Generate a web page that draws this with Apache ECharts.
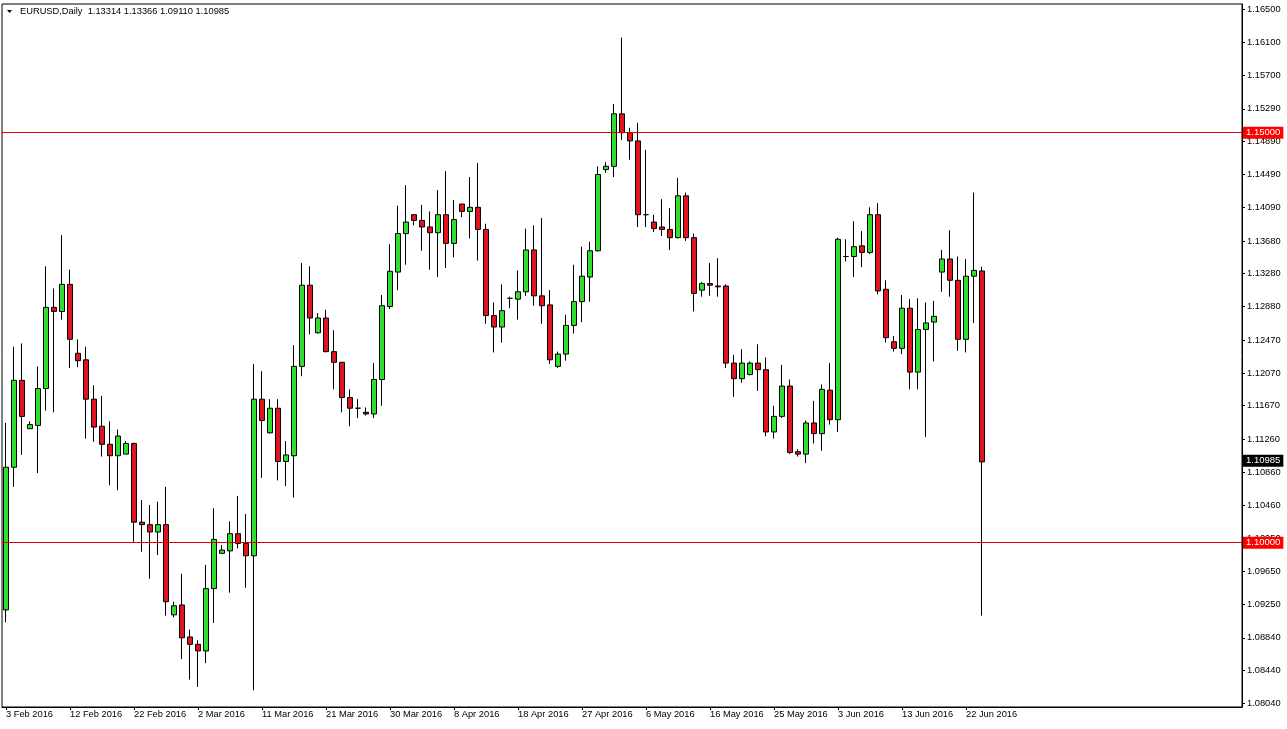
<!DOCTYPE html>
<html><head><meta charset="utf-8">
<script src="https://cdn.jsdelivr.net/npm/echarts@6/dist/echarts.min.js"></script>
<style>html,body{margin:0;padding:0;background:#fff;}#c{width:1287px;height:729px;}</style>
</head><body><div id="c"></div>
<script>
const dates = ["3 Feb 2016","4 Feb 2016","5 Feb 2016","7 Feb 2016","8 Feb 2016","9 Feb 2016","10 Feb 2016","11 Feb 2016",
"12 Feb 2016","14 Feb 2016","15 Feb 2016","16 Feb 2016","17 Feb 2016","18 Feb 2016","19 Feb 2016","21 Feb 2016",
"22 Feb 2016","23 Feb 2016","24 Feb 2016","25 Feb 2016","26 Feb 2016","28 Feb 2016","29 Feb 2016","1 Mar 2016",
"2 Mar 2016","3 Mar 2016","4 Mar 2016","6 Mar 2016","7 Mar 2016","8 Mar 2016","9 Mar 2016","10 Mar 2016",
"11 Mar 2016","13 Mar 2016","14 Mar 2016","15 Mar 2016","16 Mar 2016","17 Mar 2016","18 Mar 2016","20 Mar 2016",
"21 Mar 2016","22 Mar 2016","23 Mar 2016","24 Mar 2016","25 Mar 2016","27 Mar 2016","28 Mar 2016","29 Mar 2016",
"30 Mar 2016","31 Mar 2016","1 Apr 2016","3 Apr 2016","4 Apr 2016","5 Apr 2016","6 Apr 2016","7 Apr 2016",
"8 Apr 2016","10 Apr 2016","11 Apr 2016","12 Apr 2016","13 Apr 2016","14 Apr 2016","15 Apr 2016","17 Apr 2016",
"18 Apr 2016","19 Apr 2016","20 Apr 2016","21 Apr 2016","22 Apr 2016","24 Apr 2016","25 Apr 2016","26 Apr 2016",
"27 Apr 2016","28 Apr 2016","29 Apr 2016","1 May 2016","2 May 2016","3 May 2016","4 May 2016","5 May 2016",
"6 May 2016","8 May 2016","9 May 2016","10 May 2016","11 May 2016","12 May 2016","13 May 2016","15 May 2016",
"16 May 2016","17 May 2016","18 May 2016","19 May 2016","20 May 2016","22 May 2016","23 May 2016","24 May 2016",
"25 May 2016","26 May 2016","27 May 2016","29 May 2016","30 May 2016","31 May 2016","1 Jun 2016","2 Jun 2016",
"3 Jun 2016","5 Jun 2016","6 Jun 2016","7 Jun 2016","8 Jun 2016","9 Jun 2016","10 Jun 2016","12 Jun 2016",
"13 Jun 2016","14 Jun 2016","15 Jun 2016","16 Jun 2016","17 Jun 2016","19 Jun 2016","20 Jun 2016","21 Jun 2016",
"22 Jun 2016","23 Jun 2016","24 Jun 2016"];

const open = [1.0918,1.1092,1.1198,1.1139,1.1143,1.1188,1.1287,1.1282,
1.1315,1.1231,1.1223,1.1175,1.1142,1.1120,1.1106,1.1108,
1.1121,1.1025,1.1022,1.1013,1.1022,1.0912,1.0924,1.0885,
1.0876,1.0868,1.0944,1.0987,1.0990,1.1011,1.0999,1.0984,
1.1175,1.1134,1.1164,1.1099,1.1106,1.1215,1.1314,1.1256,
1.1274,1.1233,1.1220,1.1177,1.1164,1.1159,1.1157,1.1199,
1.1288,1.1330,1.1377,1.1400,1.1393,1.1385,1.1378,1.1400,
1.1365,1.1413,1.1404,1.1409,1.1382,1.1277,1.1263,1.1298,
1.1297,1.1306,1.1357,1.1301,1.1290,1.1215,1.1230,1.1265,
1.1294,1.1324,1.1356,1.1455,1.1459,1.1523,1.1500,1.1490,
1.1400,1.1391,1.1385,1.1382,1.1372,1.1423,1.1372,1.1308,
1.1316,1.1313,1.1313,1.1219,1.1200,1.1205,1.1219,1.1211,
1.1135,1.1154,1.1191,1.1111,1.1108,1.1146,1.1133,1.1186,
1.1150,1.1349,1.1349,1.1362,1.1354,1.1400,1.1309,1.1245,
1.1237,1.1286,1.1208,1.1260,1.1269,1.1330,1.1346,1.1320,
1.1248,1.1325,1.13314];

const close = [1.1092,1.1198,1.1154,1.1144,1.1188,1.1287,1.1282,1.1315,
1.1248,1.1222,1.1175,1.1141,1.1120,1.1106,1.1130,1.1121,
1.1025,1.1022,1.1013,1.1022,1.0928,1.0923,1.0884,1.0876,
1.0868,1.0944,1.1004,1.0991,1.1011,1.0999,1.0984,1.1175,
1.1149,1.1164,1.1099,1.1107,1.1215,1.1314,1.1274,1.1274,
1.1233,1.1220,1.1177,1.1164,1.1164,1.1157,1.1199,1.1289,
1.1331,1.1377,1.1391,1.1393,1.1385,1.1378,1.1400,1.1365,
1.1394,1.1404,1.1409,1.1382,1.1277,1.1263,1.1283,1.1298,
1.1306,1.1357,1.1301,1.1289,1.1223,1.1230,1.1265,1.1294,
1.1325,1.1356,1.1449,1.1459,1.1523,1.1500,1.1490,1.1400,
1.1400,1.1383,1.1382,1.1372,1.1423,1.1372,1.1304,1.1316,
1.1314,1.1312,1.1219,1.1200,1.1219,1.1219,1.1211,1.1135,
1.1154,1.1191,1.1110,1.1108,1.1146,1.1133,1.1187,1.1150,
1.1370,1.1349,1.1361,1.1354,1.1400,1.1307,1.1250,1.1237,
1.1286,1.1208,1.1260,1.1268,1.1276,1.1346,1.1320,1.1248,
1.1325,1.1332,1.10985];

const high = [1.1146,1.1239,1.1243,1.1148,1.1215,1.1337,1.1310,1.1375,
1.1333,1.1248,1.1239,1.1192,1.1179,1.1148,1.1138,1.1124,
1.1122,1.1052,1.1046,1.1050,1.1068,1.0928,1.0962,1.0894,
1.0881,1.0973,1.1042,1.0997,1.1026,1.1057,1.1035,1.1218,
1.1209,1.1175,1.1175,1.1124,1.1241,1.1341,1.1337,1.1280,
1.1284,1.1259,1.1220,1.1187,1.1175,1.1165,1.1219,1.1302,
1.1364,1.1411,1.1436,1.1400,1.1412,1.1404,1.1430,1.1453,
1.1418,1.1413,1.1446,1.1463,1.1389,1.1293,1.1315,1.1300,
1.1332,1.1383,1.1387,1.1396,1.1308,1.1233,1.1278,1.1339,
1.1361,1.1367,1.1459,1.1464,1.1535,1.1616,1.1506,1.1512,
1.1479,1.1400,1.1419,1.1408,1.1445,1.1427,1.1377,1.1318,
1.1341,1.1347,1.1315,1.1229,1.1236,1.1221,1.1242,1.1226,
1.1167,1.1217,1.1199,1.1114,1.1149,1.1173,1.1193,1.1219,
1.1372,1.1370,1.1392,1.1380,1.1409,1.1414,1.1320,1.1252,
1.1302,1.1297,1.1298,1.1293,1.1295,1.1357,1.1381,1.1349,
1.1346,1.1427,1.13366];

const low = [1.0903,1.1068,1.1107,1.1139,1.1085,1.1161,1.1159,1.1272,
1.1213,1.1214,1.1127,1.1123,1.1105,1.1070,1.1064,1.1108,
1.1001,1.0989,1.0956,1.0985,1.0911,1.0909,1.0858,1.0833,
1.0824,1.0853,1.0902,1.0987,1.0939,1.0993,1.0945,1.0820,
1.1079,1.1133,1.1076,1.1069,1.1055,1.1203,1.1254,1.1255,
1.1232,1.1187,1.1159,1.1142,1.1152,1.1155,1.1152,1.1167,
1.1285,1.1308,1.1339,1.1387,1.1356,1.1333,1.1324,1.1335,
1.1348,1.1397,1.1371,1.1344,1.1267,1.1232,1.1244,1.1286,
1.1272,1.1301,1.1289,1.1267,1.1218,1.1213,1.1222,1.1255,
1.1269,1.1294,1.1355,1.1451,1.1446,1.1491,1.1467,1.1385,
1.1385,1.1379,1.1374,1.1357,1.1371,1.1368,1.1282,1.1300,
1.1301,1.1300,1.1213,1.1178,1.1195,1.1204,1.1185,1.1130,
1.1127,1.1152,1.1108,1.1105,1.1097,1.1121,1.1112,1.1144,
1.1135,1.1343,1.1324,1.1336,1.1352,1.1303,1.1244,1.1233,
1.1230,1.1187,1.1187,1.1129,1.1221,1.1306,1.1300,1.1234,
1.1232,1.1268,1.09110];

const priceTicks = [1.16500,1.16100,1.15700,1.15290,1.14890,1.14490,1.14090,1.13680,1.13280,1.12880,1.12470,
1.12070,1.11670,1.11260,1.10860,1.10460,1.10050,1.09650,1.09250,1.08840,1.08440,1.08040];
const levelLines = [1.15000, 1.10000];
const lastPrice = 1.10985;
const headerText = "EURUSD,Daily  1.13314 1.13366 1.09110 1.10985";

const FONT = "'Liberation Sans', Arial, sans-serif";
const N = 155;
const cats = dates.concat(new Array(N - dates.length).fill(''));
const ohlc = open.map((o, i) => [o, close[i], low[i], high[i]]);

const chart = echarts.init(document.getElementById('c'), null, {renderer: 'canvas'});
const boxLabel = (text, bg) => ({
  show: true, position: 'end', distance: 1, formatter: text,
  backgroundColor: bg, color: '#fff', fontSize: 9.5, fontFamily: FONT,
  padding: [2, 3, 1, 3], lineHeight: 9
});
const mlData = levelLines.map(v => ({
  yAxis: v,
  lineStyle: {color: '#e00000', width: 1, type: 'solid'},
  label: boxLabel(v.toFixed(5), '#ff0000')
}));
mlData.push({
  yAxis: lastPrice,
  lineStyle: {color: 'rgba(0,0,0,0)', width: 1},
  label: boxLabel(lastPrice.toFixed(5), '#000')
});

chart.setOption({
  animation: false,
  backgroundColor: '#fff',
  grid: {left: 2, right: 45, top: 4, bottom: 22, show: true, borderColor: '#000', borderWidth: 1, backgroundColor: '#fff'},
  xAxis: {
    type: 'category', data: cats, boundaryGap: true,
    axisLine: {show: true, lineStyle: {color: '#000'}},
    axisTick: {show: true, interval: (i, v) => i % 8 === 0 && v !== '', alignWithLabel: true, length: 3, lineStyle: {color: '#000'}},
    axisLabel: {interval: 7, align: 'left', color: '#000', fontSize: 9.3, fontFamily: FONT, margin: 3},
    splitLine: {show: false}
  },
  yAxis: {
    type: 'value', position: 'right', min: 1.07996, max: 1.165695, scale: true,
    splitLine: {show: false},
    axisLine: {show: true, lineStyle: {color: '#000'}},
    axisTick: {show: true, length: 3, customValues: priceTicks, lineStyle: {color: '#000'}},
    axisLabel: {customValues: priceTicks, formatter: v => v.toFixed(5), color: '#000', fontSize: 9.3, fontFamily: FONT, margin: 5}
  },
  graphic: [
    {type: 'polygon', shape: {points: [[7, 10], [12, 10], [9.5, 13]]}, style: {fill: '#000'}},
    {type: 'text', left: 20, top: 7, style: {text: headerText, fill: '#000', font: '9.3px ' + FONT}}
  ],
  series: [{
    type: 'candlestick',
    data: ohlc,
    barWidth: 5,
    itemStyle: {color: '#2fe02f', color0: '#e0141e', borderColor: '#000', borderColor0: '#000', borderColorDoji: '#000', borderWidth: 1},
    markLine: {symbol: 'none', silent: true, animation: false, data: mlData}
  }]
});
</script></body></html>
